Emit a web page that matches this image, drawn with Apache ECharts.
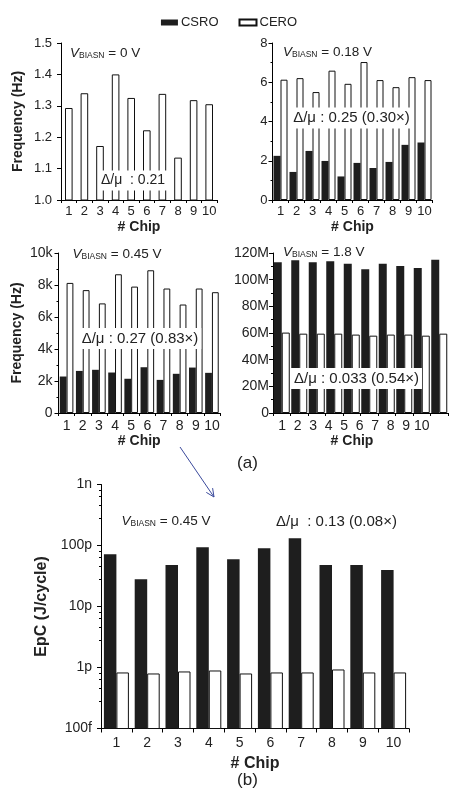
<!DOCTYPE html>
<html>
<head>
<meta charset="utf-8">
<script src="https://cdn.jsdelivr.net/npm/echarts@6/dist/echarts.min.js"></script>
<style>
html,body{margin:0;padding:0;background:#fff;}
#c{width:458px;height:801px;}
</style>
</head>
<body>
<div id="c"></div>
<script>
// ---- data ----
var chips = ['1','2','3','4','5','6','7','8','9','10'];
// (a) V_BIASN = 0 V : frequency (Hz), CERO only visible
var f0_CERO = [1.293, 1.340, 1.172, 1.400, 1.325, 1.222, 1.338, 1.135, 1.318, 1.305];
// V_BIASN = 0.18 V : frequency (Hz)
var f018_CSRO = [2.25, 1.43, 2.50, 1.99, 1.20, 1.89, 1.63, 1.94, 2.81, 2.93];
var f018_CERO = [6.13, 6.21, 5.50, 6.59, 5.92, 7.03, 6.11, 5.75, 6.26, 6.11];
// V_BIASN = 0.45 V : frequency (Hz)
var f045_CSRO = [2280, 2630, 2700, 2530, 2140, 2860, 2070, 2450, 2840, 2510];
var f045_CERO = [8130, 7680, 6850, 8670, 7900, 8920, 7780, 6780, 7780, 7550];
// V_BIASN = 1.8 V : frequency (Hz)
var f18_CSRO = [113.0e6, 114.5e6, 113.0e6, 113.8e6, 112.0e6, 107.8e6, 112.0e6, 110.3e6, 108.8e6, 115.0e6];
var f18_CERO = [60.3e6, 59.5e6, 59.5e6, 59.5e6, 58.8e6, 58.0e6, 58.8e6, 58.8e6, 58.0e6, 59.5e6];
// (b) EpC at V_BIASN = 0.45 V, in femtojoules per cycle
var epc_CSRO = [72000, 28000, 47700, 94000, 59700, 90000, 132000, 47700, 47700, 39500];
var epc_CERO = [829, 798, 861, 893, 798, 829, 829, 928, 829, 829];

var biasLabels = ['0 V', '0.18 V', '0.45 V', '1.8 V', '0.45 V'];
var ratioLabels = ['Δ/μ  : 0.21', 'Δ/μ : 0.25 (0.30×)', 'Δ/μ : 0.27 (0.83×)', 'Δ/μ : 0.033 (0.54×)', 'Δ/μ  : 0.13 (0.08×)'];
var epcTickNames = {100: '100f', 1000: '1p', 10000: '10p', 100000: '100p', 1000000: '1n'};

// ---- styling ----
var FONT = 'Liberation Sans, Arial, sans-serif';
var TXT = '#222';
var BLACK = '#1e1e1e';

var chart = echarts.init(document.getElementById('c'), null, {renderer: 'canvas'});

function lab(size, margin, fmt) {
  var o = {interval: 0, margin: margin, fontSize: size, color: TXT, fontFamily: FONT};
  if (fmt) o.formatter = fmt;
  return o;
}
function xAx(grid, opts) {
  var o = {
    type: 'category', gridIndex: grid, data: chips,
    axisLine: {show: true, lineStyle: {color: '#000', width: 1}},
    axisTick: {show: true, length: 3, lineStyle: {color: '#000'}},
    axisLabel: lab(13, 5),
    splitLine: {show: false},
    name: '# Chip', nameLocation: 'middle', nameGap: 20,
    nameTextStyle: {fontSize: 14, fontWeight: 'bold', color: TXT, fontFamily: FONT}
  };
  return Object.assign(o, opts || {});
}
function yAx(grid, opts) {
  var o = {
    type: 'value', gridIndex: grid,
    axisLine: {show: true, lineStyle: {color: '#000', width: 1}},
    axisTick: {show: true, length: 4, lineStyle: {color: '#000'}},
    minorTick: {show: true, splitNumber: 2, length: 2, lineStyle: {color: '#000'}},
    axisLabel: lab(13, 6),
    splitLine: {show: false}
  };
  return Object.assign(o, opts || {});
}
var blackStyle = {color: BLACK};
var whiteStyle = {color: '#fff', borderColor: '#111', borderWidth: 1};

function biasText(x, y, val, size) {
  return {
    type: 'text', x: x, y: y, z: 100,
    style: {
      text: '{v|V}{s|BIASN}{n| = ' + val + '}',
      verticalAlign: 'middle',
      rich: {
        v: {fontSize: size, fontStyle: 'italic', fontFamily: FONT, fill: TXT, lineHeight: 16, verticalAlign: 'bottom'},
        s: {fontSize: 8.5, fontFamily: FONT, fill: TXT, lineHeight: 11, verticalAlign: 'bottom'},
        n: {fontSize: size, fontFamily: FONT, fill: TXT, lineHeight: 16, verticalAlign: 'bottom'}
      }
    }
  };
}
function ratioText(x, y, txt, size, align, bg) {
  return {
    type: 'text', x: x, y: y, z: 100,
    style: {
      text: txt, fontSize: size, fontFamily: FONT, fill: TXT,
      align: align, verticalAlign: 'middle',
      backgroundColor: bg ? '#fff' : null, padding: bg ? [3, 3, 3, 3] : 0
    }
  };
}

var option = {
  animation: false,
  backgroundColor: '#fff',
  textStyle: {fontFamily: FONT},
  legend: {
    top: 11, left: 'center', selectedMode: false,
    itemWidth: 17, itemHeight: 6, itemGap: 20,
    textStyle: {fontSize: 13, color: TXT, fontFamily: FONT, padding: [0, 0, 0, -2]},
    data: [{name: 'CSRO', icon: 'rect'}, {name: 'CERO', icon: 'rect'}]
  },
  grid: [
    {left: 61, top: 43, width: 156, height: 157, outerBoundsMode: 'none'},
    {left: 272.5, top: 43, width: 160, height: 157, outerBoundsMode: 'none'},
    {left: 58.5, top: 253, width: 161.5, height: 160, outerBoundsMode: 'none'},
    {left: 273, top: 253, width: 175, height: 160, outerBoundsMode: 'none'},
    {left: 274.5, top: 253, width: 155, height: 160, outerBoundsMode: 'none'},
    {left: 101, top: 484.5, width: 308, height: 244, outerBoundsMode: 'none'}
  ],
  xAxis: [
    xAx(0),
    xAx(1),
    xAx(2, {nameGap: 21, axisLabel: lab(14, 6)}),
    xAx(3, {name: '', axisLabel: {show: false}}),
    xAx(4, {axisLine: {show: false}, axisTick: {show: false}, nameGap: 21, axisLabel: lab(14, 6)}),
    xAx(5, {nameGap: 27, axisTick: {show: true, length: 4, lineStyle: {color: '#000'}},
            axisLabel: lab(14, 8),
            nameTextStyle: {fontSize: 16, fontWeight: 'bold', color: TXT, fontFamily: FONT}})
  ],
  yAxis: [
    yAx(0, {min: 1.0, max: 1.5, interval: 0.1, minorTick: {show: false},
            axisLabel: lab(13, 9, function (v) { return v.toFixed(1); }),
            name: 'Frequency (Hz)', nameLocation: 'middle', nameGap: 36,
            nameTextStyle: {fontSize: 14, fontWeight: 'bold', color: TXT, fontFamily: FONT}}),
    yAx(1, {min: 0, max: 8, interval: 2, axisLabel: lab(13, 5)}),
    yAx(2, {min: 0, max: 10000, interval: 2000,
            axisLabel: lab(14, 6, function (v) { return v === 0 ? '0' : (v / 1000) + 'k'; }),
            name: 'Frequency (Hz)', nameLocation: 'middle', nameGap: 34,
            nameTextStyle: {fontSize: 14, fontWeight: 'bold', color: TXT, fontFamily: FONT}}),
    yAx(3, {min: 0, max: 120e6, interval: 20e6,
            axisLabel: lab(14, 4, function (v) { return v === 0 ? '0' : Math.round(v / 1e6) + 'M'; })}),
    yAx(4, {show: false, min: 0, max: 1}),
    yAx(5, {type: 'log', logBase: 10, min: 100, max: 1e6,
            minorTick: {show: true, splitNumber: 5, length: 2, lineStyle: {color: '#000'}},
            axisLabel: lab(14, 9, function (v) { return epcTickNames[Math.round(v)] || ''; }),
            name: 'EpC (J/cycle)', nameLocation: 'middle', nameGap: 48,
            nameTextStyle: {fontSize: 16, fontWeight: 'bold', color: TXT, fontFamily: FONT}})
  ],
  series: [
    {type: 'bar', name: 'CERO', xAxisIndex: 0, yAxisIndex: 0, data: f0_CERO, barWidth: 7.6, itemStyle: whiteStyle},
    {type: 'bar', name: 'CSRO', xAxisIndex: 1, yAxisIndex: 1, data: f018_CSRO, barWidth: 7, barGap: '0%', itemStyle: blackStyle},
    {type: 'bar', name: 'CERO', xAxisIndex: 1, yAxisIndex: 1, data: f018_CERO, barWidth: 7, barGap: '0%', itemStyle: whiteStyle},
    {type: 'bar', name: 'CSRO', xAxisIndex: 2, yAxisIndex: 2, data: f045_CSRO, barWidth: 6.8, barGap: '0%', itemStyle: blackStyle},
    {type: 'bar', name: 'CERO', xAxisIndex: 2, yAxisIndex: 2, data: f045_CERO, barWidth: 6.8, barGap: '0%', itemStyle: whiteStyle},
    {type: 'bar', name: 'CSRO', xAxisIndex: 3, yAxisIndex: 3, data: f18_CSRO, barWidth: 8, barGap: '0%', itemStyle: blackStyle},
    {type: 'bar', name: 'CERO', xAxisIndex: 3, yAxisIndex: 3, data: f18_CERO, barWidth: 8, barGap: '0%', itemStyle: whiteStyle},
    {type: 'bar', name: 'CSRO', xAxisIndex: 5, yAxisIndex: 5, data: epc_CSRO, barWidth: 12.5, barGap: '0%', itemStyle: blackStyle},
    {type: 'bar', name: 'CERO', xAxisIndex: 5, yAxisIndex: 5, data: epc_CERO, barWidth: 12.5, barGap: '0%', itemStyle: whiteStyle}
  ],
  graphic: [
    biasText(70, 52, biasLabels[0], 13.5),
    biasText(283, 51, biasLabels[1], 13.5),
    biasText(72.5, 253, biasLabels[2], 13.5),
    biasText(283, 251, biasLabels[3], 13.5),
    biasText(121.5, 520, biasLabels[4], 13.5),
    ratioText(98, 180.5, ratioLabels[0], 14, 'left', true),
    ratioText(351.5, 118, ratioLabels[1], 15, 'center', true),
    ratioText(140, 338.5, ratioLabels[2], 15, 'center', true),
    ratioText(356.5, 378.5, ratioLabels[3], 15, 'center', true),
    ratioText(336.5, 521.5, ratioLabels[4], 15, 'center', false),
    {type: 'text', x: 247.5, y: 463, z: 100, style: {text: '(a)', fontSize: 17, fontFamily: FONT, fill: TXT, align: 'center', verticalAlign: 'middle'}},
    {type: 'text', x: 247.5, y: 780, z: 100, style: {text: '(b)', fontSize: 17, fontFamily: FONT, fill: TXT, align: 'center', verticalAlign: 'middle'}},
    {type: 'line', z: 100, shape: {x1: 180, y1: 447, x2: 214, y2: 497}, style: {stroke: '#3b4a9c', lineWidth: 1}},
    {type: 'polyline', z: 100, shape: {points: [[212.6, 488.1], [214, 497], [206.3, 492.4]]}, style: {stroke: '#3b4a9c', lineWidth: 1, fill: null}}
  ]
};
chart.setOption(option);
</script>
</body>
</html>
